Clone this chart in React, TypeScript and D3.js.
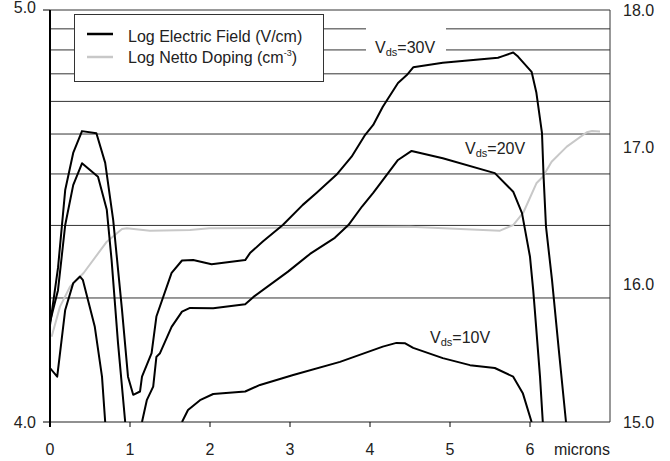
import React from "react";
import * as d3 from "d3";

// x in microns, y = log10 of the electric field (V/cm); null = below the plot
const vds30: [number, number | null][] = [
  [0, 4.235], [0.1, 4.374], [0.19, 4.563], [0.29, 4.653], [0.4, 4.706], [0.58, 4.701],
  [0.69, 4.629], [0.79, 4.49], [0.9, 4.272], [0.975, 4.11], [1.04, 4.066], [1.125, 4.074],
  [1.15, 4.11], [1.27, 4.167], [1.33, 4.256], [1.52, 4.362], [1.65, 4.392], [1.79, 4.393],
  [2.02, 4.383], [2.44, 4.393], [2.5, 4.41], [2.66, 4.438], [2.91, 4.478], [3.16, 4.527],
  [3.33, 4.556], [3.58, 4.6], [3.77, 4.644], [3.94, 4.697], [4.04, 4.721], [4.16, 4.765],
  [4.35, 4.823], [4.46, 4.842], [4.54, 4.861], [4.91, 4.872], [5.6, 4.884], [5.66, 4.888],
  [5.79, 4.897], [5.85, 4.887], [6.02, 4.85], [6.08, 4.799], [6.15, 4.701], [6.17, 4.595],
  [6.2, 4.474], [6.275, 4.345], [6.36, 4.175], [6.45, 4.0],
];

const vds20: [number, number | null][] = [
  [0, 4.243], [0.1, 4.32], [0.19, 4.478], [0.29, 4.575], [0.4, 4.628], [0.6, 4.595],
  [0.71, 4.515], [0.77, 4.393], [0.85, 4.192], [0.94, 4.0], [1.05, null], [1.15, 4.0],
  [1.21, 4.053], [1.29, 4.086], [1.33, 4.158], [1.375, 4.167], [1.52, 4.231], [1.65, 4.268],
  [1.75, 4.277], [2.04, 4.276], [2.44, 4.286], [2.54, 4.303], [2.975, 4.365], [3.25, 4.408],
  [3.56, 4.447], [3.73, 4.478], [3.9, 4.523], [4.04, 4.556], [4.16, 4.587], [4.35, 4.636],
  [4.52, 4.658], [4.91, 4.64], [5.56, 4.604], [5.79, 4.559], [5.9, 4.507], [6.0, 4.401],
  [6.04, 4.32], [6.06, 4.272], [6.125, 4.11], [6.16, 4.0],
];

const vds10: [number, number | null][] = [
  [0, 4.131], [0.09, 4.11], [0.19, 4.272], [0.29, 4.337], [0.375, 4.353], [0.41, 4.345],
  [0.56, 4.231], [0.65, 4.11], [0.69, 4.0], [1.2, null], [1.65, 4.0], [1.725, 4.029],
  [1.875, 4.053], [2.04, 4.068], [2.44, 4.074], [2.625, 4.09], [3.04, 4.114], [3.625, 4.146],
  [4.16, 4.183], [4.33, 4.192], [4.44, 4.191], [4.54, 4.18], [4.91, 4.155], [5.25, 4.138],
  [5.56, 4.131], [5.79, 4.11], [5.91, 4.07], [6.02, 4.0],
];

// log10 of the netto doping (cm^-3), right axis
const doping: [number, number][] = [
  [0.02, 15.621], [0.125, 15.84], [0.25, 15.985], [0.42, 16.085], [0.71, 16.313], [0.9, 16.405],
  [0.96, 16.41], [1.25, 16.393], [1.75, 16.398], [1.99, 16.41], [3.625, 16.418], [4.5, 16.422],
  [5.625, 16.393], [5.79, 16.434], [5.92, 16.529], [6.08, 16.738], [6.16, 16.786], [6.27, 16.895],
  [6.46, 17.005], [6.71, 17.11], [6.775, 17.119], [6.875, 17.115],
];

const xTicks = [0, 1, 2, 3, 4, 5, 6];
const leftTicks = [4, 5];
const rightTicks = [15, 16, 17, 18];

const W = 670;
const H = 461;
const left = 50;
const right = 610;
const top = 10;
const bottom = 422;
const font = "'Liberation Sans', Arial, sans-serif";

export default function App() {
  const x = d3.scaleLinear().domain([0, 7]).range([left, right]);
  const yE = d3.scaleLinear().domain([4, 5]).range([bottom, top]);
  const yD = d3.scaleLinear().domain([15, 18]).range([bottom, top]);
  // the gridlines follow the decades of the field itself
  const yLog = d3.scaleLog().domain([1e4, 1e5]).range([bottom, top]);
  const grid = yLog.ticks().filter((t) => t > 1e4);

  const fieldLine = d3
    .line<[number, number | null]>()
    .defined((d) => d[1] !== null)
    .x((d) => x(d[0]))
    .y((d) => yE(d[1] as number));

  const dopingLine = d3
    .line<[number, number]>()
    .x((d) => x(d[0]))
    .y((d) => yD(d[1]));

  return (
    <div style={{ position: "fixed", left: 0, top: 0 }}>
      <svg width={W} height={H} style={{ display: "block", background: "#fff" }} fontFamily={font}>
        <defs>
          <clipPath id="plot">
            <rect x={left} y={top - 2} width={right - left} height={bottom - top + 2} />
          </clipPath>
        </defs>

        {/* gridlines */}
        {grid.map((t) => (
          <line key={t} x1={left} x2={right} y1={yLog(t)} y2={yLog(t)} stroke="#333" strokeWidth={1} />
        ))}
        <line x1={right} x2={right} y1={top} y2={bottom} stroke="#333" strokeWidth={1} />
        <line x1={left} x2={right} y1={bottom} y2={bottom} stroke="#222" strokeWidth={1.2} />

        {/* white box behind the 30V label */}
        <rect x={366} y={25} width={80} height={30} fill="#fff" />

        <g clipPath="url(#plot)" fill="none" strokeLinejoin="round">
          <path d={dopingLine(doping) ?? ""} stroke="#c8c8c8" strokeWidth={2} />
          <path d={fieldLine(vds10) ?? ""} stroke="#000" strokeWidth={2} />
          <path d={fieldLine(vds20) ?? ""} stroke="#000" strokeWidth={2} />
          <path d={fieldLine(vds30) ?? ""} stroke="#000" strokeWidth={2} />
        </g>

        {/* left axis */}
        <line x1={left} x2={left} y1={top} y2={bottom + 5} stroke="#000" strokeWidth={2} />
        {leftTicks.map((t) => (
          <g key={t}>
            <line x1={left - 7} x2={left} y1={yE(t)} y2={yE(t)} stroke="#000" strokeWidth={1} />
            <text x={left - 14} y={yE(t)} dy={t === 5 ? "0.2em" : "0.35em"} textAnchor="end" fontSize={16} fill="#222">
              {t.toFixed(1)}
            </text>
          </g>
        ))}

        {/* bottom axis */}
        {xTicks.map((t) => (
          <g key={t}>
            <line x1={x(t)} x2={x(t)} y1={bottom} y2={bottom + 5} stroke="#000" strokeWidth={1} />
            <text x={x(t)} y={bottom + 33} textAnchor="middle" fontSize={16} fill="#222">
              {t}
            </text>
          </g>
        ))}
        <text x={right} y={bottom + 33} textAnchor="end" fontSize={16} fill="#222">
          microns
        </text>

        {/* right axis labels */}
        {rightTicks.map((t) => (
          <text key={t} x={right + 13} y={yD(t)} dy="0.35em" fontSize={16} fill="#222">
            {t.toFixed(1)}
          </text>
        ))}

        {/* curve labels */}
        <text x={375} y={53} fontSize={16} fill="#222">
          V<tspan fontSize={11} dy={3}>ds</tspan>
          <tspan dy={-3}>=30V</tspan>
        </text>
        <text x={465} y={154} fontSize={16} fill="#222">
          V<tspan fontSize={11} dy={3}>ds</tspan>
          <tspan dy={-3}>=20V</tspan>
        </text>
        <text x={430} y={343} fontSize={16} fill="#222">
          V<tspan fontSize={11} dy={3}>ds</tspan>
          <tspan dy={-3}>=10V</tspan>
        </text>

        {/* legend */}
        <g>
          <rect x={74.5} y={14.5} width={249} height={67} fill="#fff" stroke="#333" strokeWidth={1} />
          <line x1={87} x2={113} y1={34} y2={34} stroke="#000" strokeWidth={2.5} />
          <line x1={87} x2={113} y1={57} y2={57} stroke="#c8c8c8" strokeWidth={2.5} />
          <text x={128} y={41.5} fontSize={16} fill="#222">
            Log Electric Field (V/cm)
          </text>
          <text x={128} y={62.5} fontSize={16} fill="#222">
            Log Netto Doping (cm<tspan fontSize={9} dy={-7}>-3</tspan>
            <tspan dy={7}>)</tspan>
          </text>
        </g>
      </svg>
    </div>
  );
}
